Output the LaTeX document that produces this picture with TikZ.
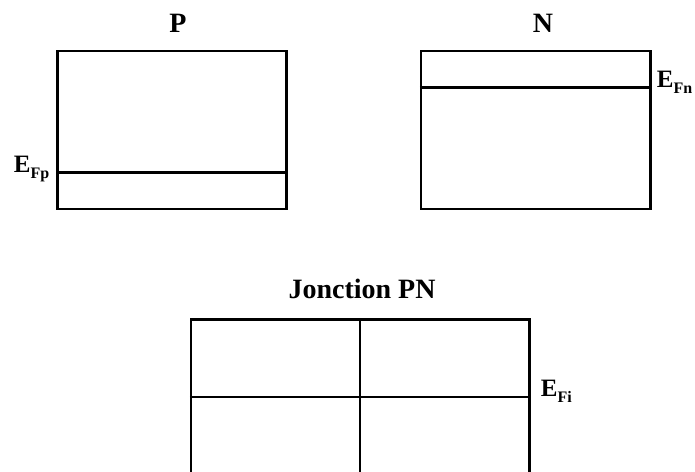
\documentclass[tikz,border=0pt]{standalone}
\usepackage{fontspec}
\setmainfont{Liberation Serif}
\newcommand{\fsub}[1]{\raisebox{-0.25em}{\fontsize{16}{16}\selectfont #1}}
\begin{document}
\begin{tikzpicture}[x=1pt,y=-1pt]
  \tikzstyle{every node}+=[inner sep=0pt]
  \tikzstyle{band}=[draw, rectangle, line width=2.6pt]
  \tikzstyle{fermi}=[line width=2.4pt]
  \tikzstyle{title}=[font=\fontsize{28}{30}\selectfont\bfseries, anchor=base]
  \tikzstyle{lvl}=[font=\fontsize{25}{27}\selectfont\bfseries]
  \clip (0,0) rectangle (695,471);
  % bandes P et N
  \node[band, minimum width=229, minimum height=158] (P) at (172.2,130) {};
  \node[band, minimum width=229.3, minimum height=158] (N) at (535.7,130) {};
  \node[title] (tP) at (178,32.5) {P};
  \node[title] (tN) at (543,32.5) {N};
  \coordinate (Fp) at (0,172.3);
  \coordinate (Fn) at (0,87.3);
  \draw[fermi] (P.west |- Fp) -- (P.east |- Fp);
  \draw[fermi] (N.west |- Fn) -- (N.east |- Fn);
  \node[lvl, anchor=base east] (EFp) at ([xshift=-7pt]P.west |- Fp) {E\fsub{Fp}};
  \node[lvl, anchor=base west] (EFn) at ([xshift=5pt]N.east |- Fn) {E\fsub{Fn}};
  % jonction
  \node[band, minimum width=338.3, minimum height=200] (J) at (360.2,419.3) {};
  \node[title] (tJ) at (362,298) {Jonction PN};
  \coordinate (Fi) at (0,396.7);
  \draw[fermi] (J.west |- Fi) -- (J.east |- Fi);
  \draw[line width=1.6pt] (J.north) -- (J.south);
  \node[lvl, anchor=base west] (EFi) at ([xshift=10pt]J.east |- Fi) {E\fsub{Fi}};
\end{tikzpicture}
\end{document}
